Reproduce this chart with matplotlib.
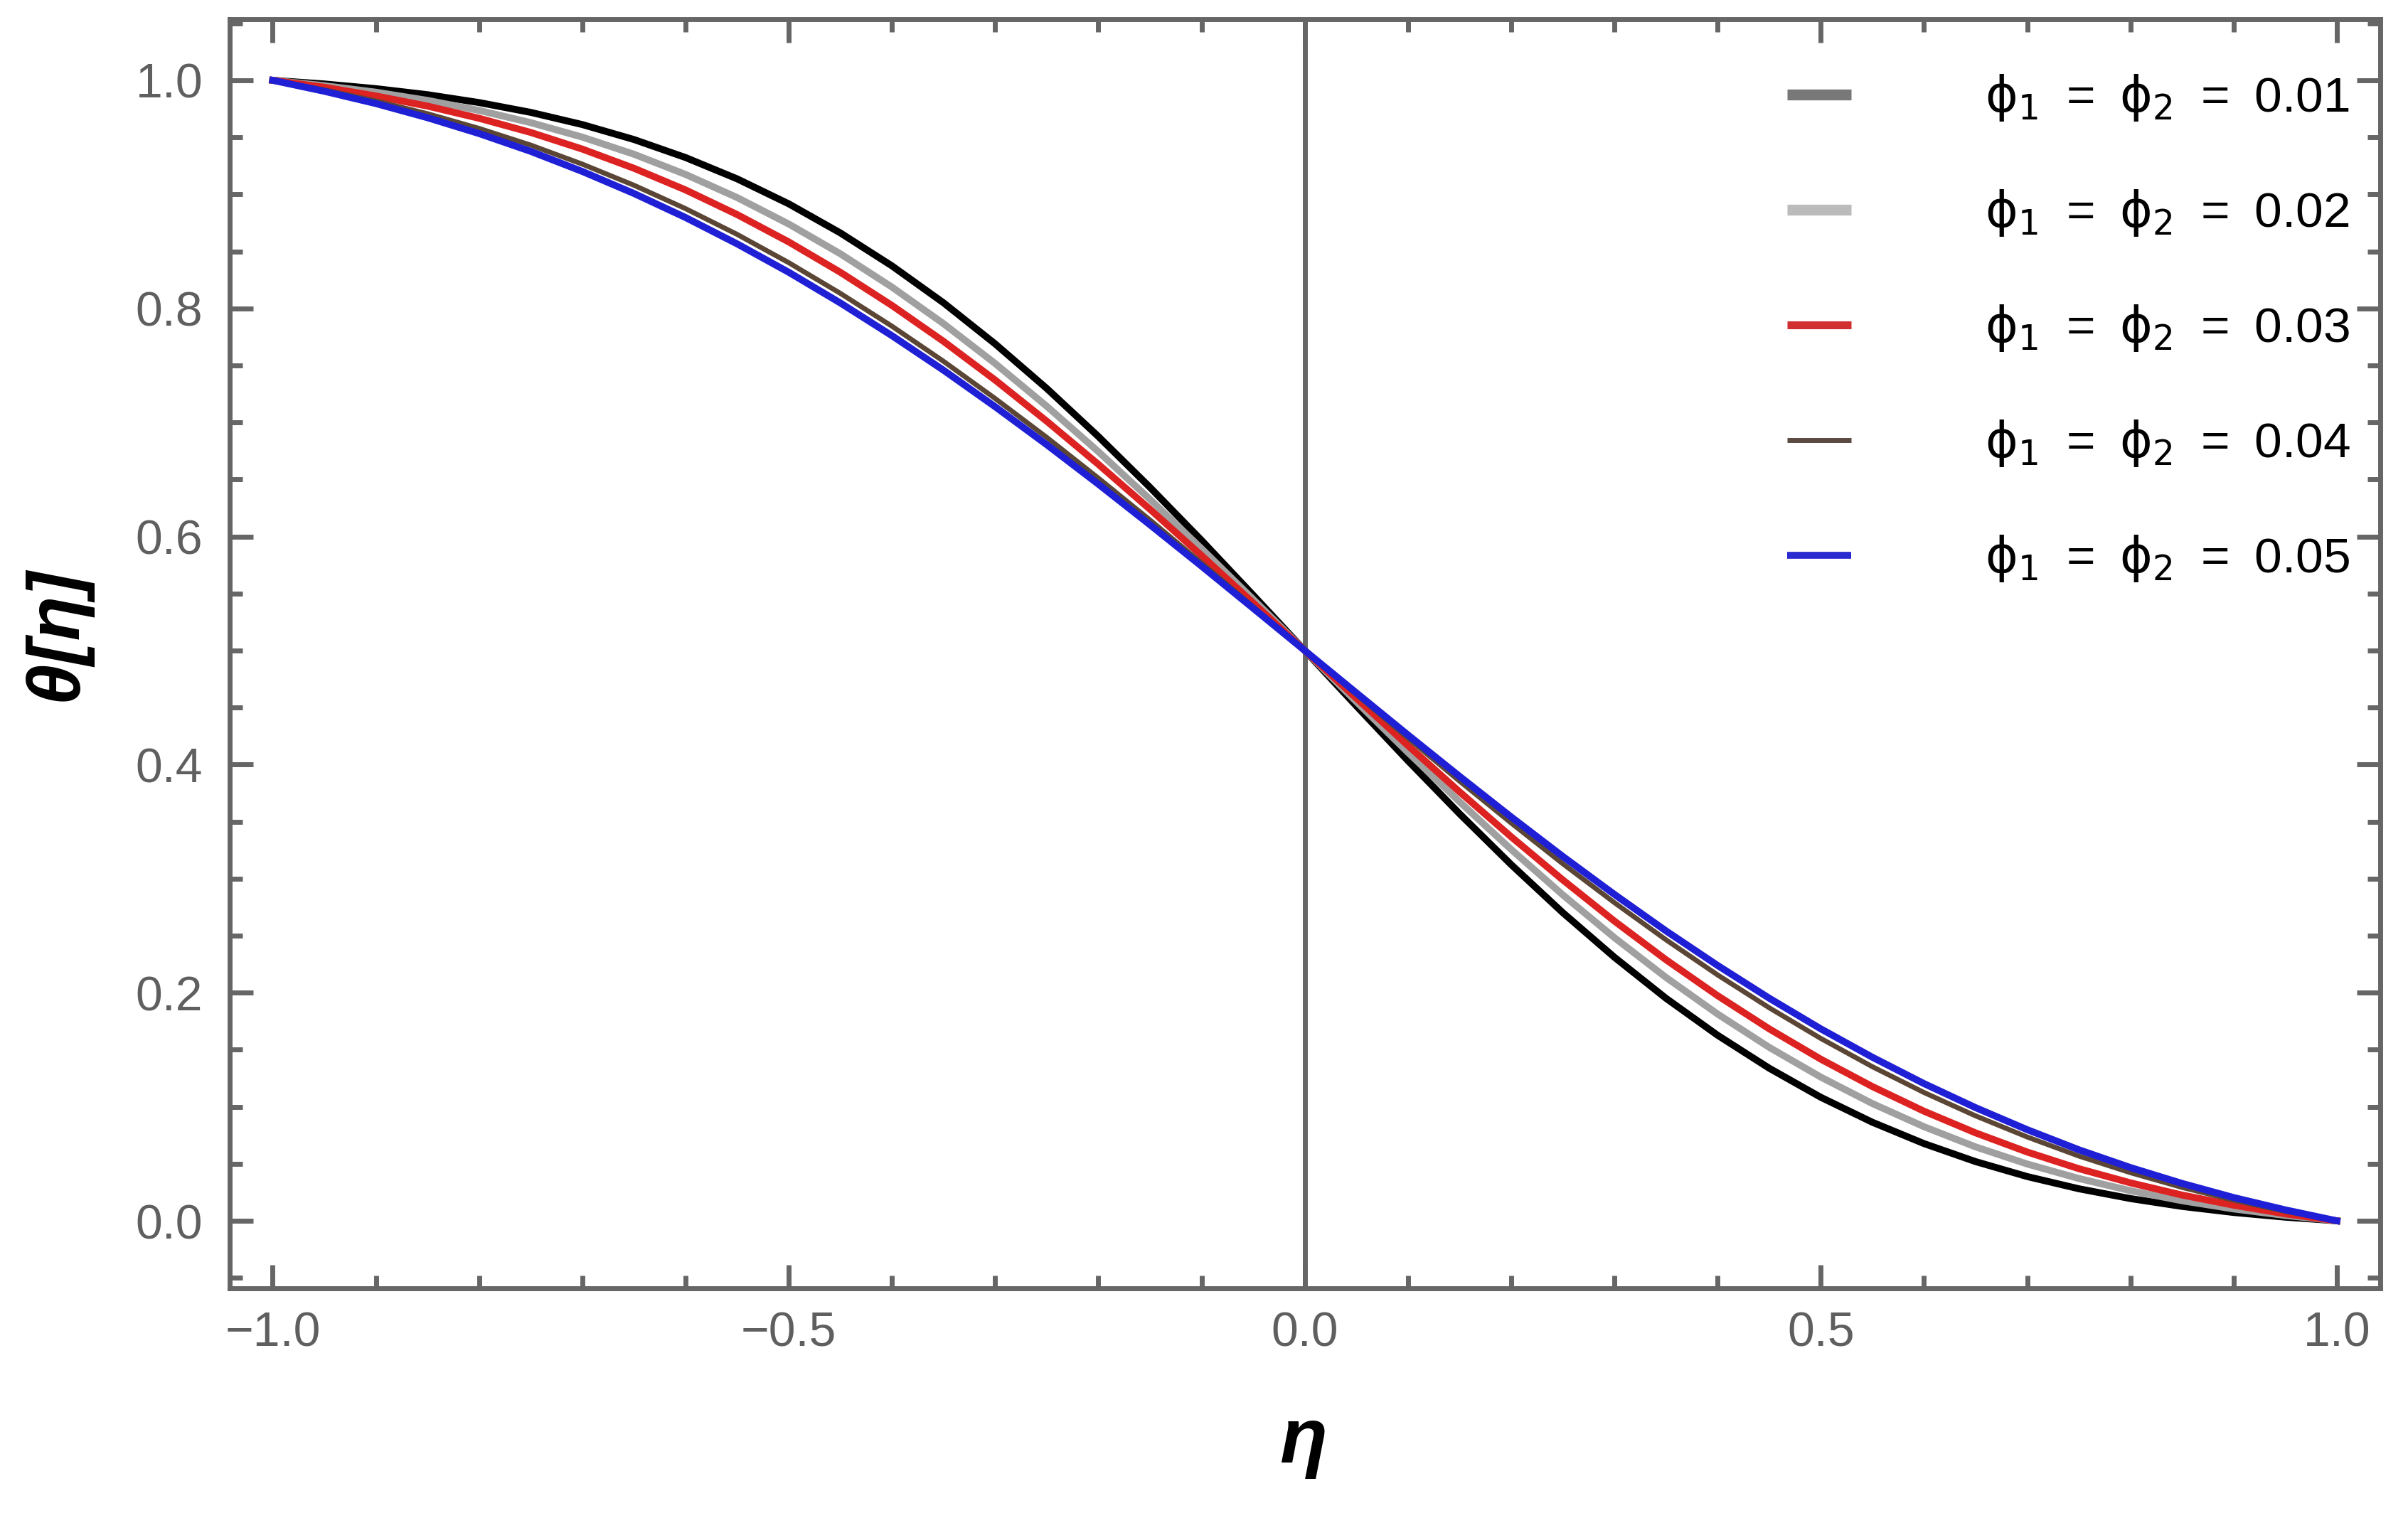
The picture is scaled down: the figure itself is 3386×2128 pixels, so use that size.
import matplotlib
matplotlib.use("Agg")
import matplotlib.pyplot as plt
from matplotlib.lines import Line2D
from matplotlib.ticker import MultipleLocator, FuncFormatter

# --- data ---
eta = [-1.00, -0.95, -0.90, -0.85, -0.80, -0.75, -0.70, -0.65, -0.60, -0.55,
       -0.50, -0.45, -0.40, -0.35, -0.30, -0.25, -0.20, -0.15, -0.10, -0.05,
       0.00, 0.05, 0.10, 0.15, 0.20, 0.25, 0.30, 0.35, 0.40, 0.45,
       0.50, 0.55, 0.60, 0.65, 0.70, 0.75, 0.80, 0.85, 0.90, 0.95, 1.00]

theta_001 = [1.0, 0.9968, 0.9927, 0.9874, 0.9805, 0.9719, 0.9612, 0.9481, 0.9323, 0.9136,
             0.8917, 0.8662, 0.8373, 0.8049, 0.7689, 0.7298, 0.6877, 0.6431, 0.5966, 0.5486,
             0.5, 0.4514, 0.4034, 0.3569, 0.3123, 0.2702, 0.2311, 0.1951, 0.1627, 0.1338,
             0.1083, 0.0864, 0.0677, 0.0519, 0.0388, 0.0281, 0.0195, 0.0126, 0.0073, 0.0032, 0.0]
theta_002 = [1.0, 0.9953, 0.9896, 0.9824, 0.9736, 0.9629, 0.9502, 0.9352, 0.9175, 0.8972,
             0.8740, 0.8479, 0.8187, 0.7866, 0.7517, 0.7142, 0.6744, 0.6326, 0.5893, 0.5449,
             0.5, 0.4551, 0.4107, 0.3674, 0.3256, 0.2858, 0.2483, 0.2134, 0.1813, 0.1521,
             0.1260, 0.1028, 0.0825, 0.0648, 0.0498, 0.0371, 0.0264, 0.0176, 0.0104, 0.0047, 0.0]
theta_003 = [1.0, 0.9939, 0.9863, 0.9774, 0.9667, 0.9543, 0.9397, 0.9229, 0.9039, 0.8823,
             0.8583, 0.8317, 0.8026, 0.7711, 0.7372, 0.7011, 0.6633, 0.6239, 0.5833, 0.5418,
             0.5, 0.4582, 0.4167, 0.3761, 0.3367, 0.2989, 0.2628, 0.2289, 0.1974, 0.1683,
             0.1417, 0.1177, 0.0961, 0.0771, 0.0603, 0.0457, 0.0333, 0.0226, 0.0137, 0.0061, 0.0]
theta_004 = [1.0, 0.9917, 0.9819, 0.9707, 0.9578, 0.9432, 0.9265, 0.9080, 0.8875, 0.8649,
             0.8401, 0.8132, 0.7844, 0.7536, 0.7210, 0.6869, 0.6512, 0.6145, 0.5768, 0.5386,
             0.5, 0.4614, 0.4232, 0.3855, 0.3488, 0.3131, 0.2790, 0.2464, 0.2156, 0.1868,
             0.1599, 0.1351, 0.1125, 0.0920, 0.0735, 0.0568, 0.0422, 0.0293, 0.0181, 0.0083, 0.0]
theta_005 = [1.0, 0.9904, 0.9796, 0.9672, 0.9533, 0.9377, 0.9201, 0.9008, 0.8797, 0.8566,
             0.8317, 0.8048, 0.7761, 0.7458, 0.7138, 0.6805, 0.6459, 0.6103, 0.5740, 0.5371,
             0.5, 0.4629, 0.4260, 0.3897, 0.3541, 0.3195, 0.2862, 0.2542, 0.2239, 0.1952,
             0.1683, 0.1434, 0.1203, 0.0992, 0.0799, 0.0623, 0.0467, 0.0328, 0.0204, 0.0096, 0.0]

phi_values = ["0.01", "0.02", "0.03", "0.04", "0.05"]
series = [theta_001, theta_002, theta_003, theta_004, theta_005]

line_colors = ["#000000", "#a0a0a0", "#dd2222", "#5b4636", "#1f1fd6"]
line_widths = [7, 7, 7, 5, 7]
legend_colors = ["#787878", "#bbbbbb", "#d03030", "#5a4a40", "#2a2ad0"]
legend_widths = [11, 11, 8, 5, 7]

plt.rcParams["font.family"] = ["Liberation Sans", "DejaVu Sans"]
plt.rcParams["axes.unicode_minus"] = True

gray = "#666666"

fig = plt.figure(figsize=(33.86, 21.28), dpi=100, facecolor="white")
ax = fig.add_axes([0.09525, 0.1485, 0.8932, 0.83882])

ax.axvline(0, color=gray, lw=5, zorder=1)

for vals, c, w in zip(series, line_colors, line_widths):
    ax.plot(eta, vals, color=c, lw=w, zorder=2)

ax.set_xlim(-1.042, 1.042)
ax.set_ylim(-0.0592, 1.0536)

ax.xaxis.set_major_locator(MultipleLocator(0.5))
ax.xaxis.set_minor_locator(MultipleLocator(0.1))
ax.yaxis.set_major_locator(MultipleLocator(0.2))
ax.yaxis.set_minor_locator(MultipleLocator(0.05))
fmt = FuncFormatter(lambda v, p: f"{v:.1f}".replace("-", "\u2212"))
ax.xaxis.set_major_formatter(fmt)
ax.yaxis.set_major_formatter(fmt)

ax.tick_params(which="both", direction="in", top=True, right=True,
               color=gray, width=5)
ax.tick_params(which="major", length=24)
ax.tick_params(which="minor", length=13)
ax.tick_params(axis="both", labelsize=49, labelcolor="#5f5f5f")
ax.tick_params(axis="x", pad=23)
ax.tick_params(axis="y", pad=27)

for s in ax.spines.values():
    s.set_color(gray)
    s.set_linewidth(5)

sp = "\u2002"  # en space, the legend text is set wide
handles = [Line2D([], [], color=c, lw=w, solid_capstyle="butt")
           for c, w in zip(legend_colors, legend_widths)]
labels = [r"$\mathrm{\phi}_1$" + sp + "=" + sp + r"$\mathrm{\phi}_2$" + sp + "=" + sp + v
          for v in phi_values]
ax.legend(handles, labels, loc="upper left", bbox_to_anchor=(0.7243, 0.958),
          frameon=False, fontsize=50, handlelength=1.3, handletextpad=2.7,
          labelspacing=1.31, borderpad=0, borderaxespad=0)

fig.text(0.0316, 0.581, "θ[η]", rotation=90, rotation_mode="anchor",
         ha="center", va="baseline", fontsize=74, fontweight="bold",
         fontstyle="italic")
fig.text(0.5411, 0.0334, "η", ha="center", va="baseline", fontsize=79,
         fontweight="bold", fontstyle="italic")

fig.savefig("out.png", dpi=100, facecolor="white")
